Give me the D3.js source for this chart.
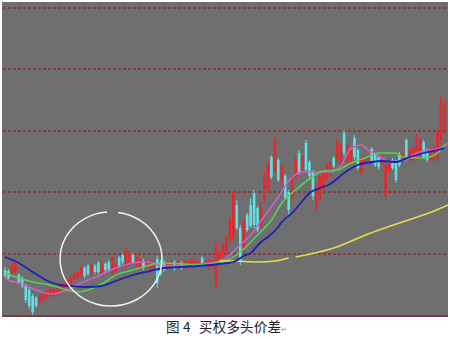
<!DOCTYPE html>
<html lang="zh">
<head>
<meta charset="UTF-8">
<title>图4 买权多头价差</title>
<script src="https://d3js.org/d3.v7.min.js"></script>
<style>
  body { margin: 0; background: #fff; }
</style>
</head>
<body>
<script>
    // candle values (price units), one entry per bar
    const openVals = [46,45,42,44,41,38,30,26,20,18,
        14,16,18,20,21,22,24,26,29,32,
        36,38,40,48,50,42,50,53,42,52,
        54,42,44,58,61,50,52,61,51,48,
        55,49,48,48,57,54,54,50,50,54,
        51,53,50,49,50,50,51,58,51,48,
        50,31,52,61,64,76,78,111,88,66,
        101,111,123,108,90,116,126,159,146,156,
        133,140,124,118,139,163,146,173,154,144,
        108,116,126,136,141,158,156,152,183,154,
        153,178,166,143,152,156,167,161,159,152,
        120,144,156,153,161,154,176,156,156,158,
        161,174,166,156,156,159,176,186];
    const closeVals = [40,38,50,52,34,30,16,10,4,10,
        19,23,24,26,27,28,30,33,36,38,
        42,44,48,40,42,51,44,44,53,46,
        46,58,52,50,54,66,63,54,60,56,
        48,54,54,53,33,42,46,54,55,47,
        54,48,54,54,56,54,54,51,55,56,
        55,70,64,71,78,96,124,88,54,94,
        86,90,91,86,109,138,153,139,176,136,
        151,118,106,136,156,143,159,146,140,120,
        128,140,146,151,153,150,174,170,163,170,
        166,159,148,158,159,161,155,151,149,158,
        151,155,148,136,151,162,159,166,169,179,
        176,159,156,166,168,184,216,212];
    const highVals = [49,47,54,54,43,40,32,28,22,20,
        21,25,26,28,29,30,32,35,38,40,
        44,46,50,50,52,53,52,55,56,54,
        56,61,54,60,63,68,65,63,62,58,
        57,56,56,55,60,56,56,56,57,56,
        56,55,56,56,58,56,56,60,57,58,
        57,79,66,74,80,101,128,116,91,98,
        103,118,126,110,113,144,156,161,180,158,
        153,142,126,138,160,166,161,176,156,146,
        133,142,148,153,155,160,178,172,186,172,
        168,181,168,160,161,163,169,163,161,160,
        154,157,158,156,164,164,178,168,171,182,
        178,176,168,168,170,188,220,216];
    const lowVals = [38,36,40,42,32,28,13,7,0,8,
        11,14,16,18,19,20,22,24,27,30,
        34,36,38,38,40,40,42,42,40,44,
        44,40,42,48,52,47,50,52,49,46,
        46,47,46,46,28,40,44,48,48,45,
        49,46,48,47,48,48,49,49,49,46,
        48,28,50,58,62,71,74,86,51,63,
        84,88,88,84,88,113,123,137,144,134,
        131,116,102,116,136,141,144,144,138,116,
        104,114,124,134,139,148,153,150,160,152,
        151,156,146,140,150,154,153,149,147,150,
        116,142,146,133,149,152,156,154,154,156,
        159,157,154,154,154,154,171,182];

    // moving averages: [bar index, value]
    const ma5 = [[0,39],[1,36],[4,33],[9,26],[13,22],[18,26],[22,33],[27,40],[32,48],[37,53],
        [40,54],[43,53],[45,50],[51,51],[56,52],[61,54],[64,58],[67,68],[71,81],[75,100],
        [79,119],[82,135],[86,144],[90,144],[94,144],[97,150],[100,168],[103,171],[105,166],
        [108,160],[111,154],[115,155],[119,163],[123,166],[126,168],[128,173]];
    const ma10 = [[0,43],[4,38],[8,34],[13,31],[18,26],[21,24],[24,26],[28,32],[32,41],[37,46],
        [42,51],[45,53],[52,52],[56,51],[61,53],[65,57],[69,67],[73,81],[77,96],[80,113],
        [84,126],[88,137],[92,145],[96,146],[100,153],[104,158],[108,163],[113,163],[115,159],
        [121,158],[125,163],[127,171]];
    const ma20 = [[0,59],[4,53],[8,44],[13,34],[16,31],[19,30],[24,29],[28,30],[32,35],[37,41],
        [42,45],[46,48],[51,49],[56,50],[62,52],[66,54],[69,60],[71,63],[74,74],[76,79],
        [79,89],[80,94],[83,103],[85,111],[88,123],[91,128],[94,132],[98,143],[102,151],
        [106,154],[109,155],[113,154],[117,159],[121,163],[125,166],[127,168]];
    const ma60 = [[62,55],[66,55],[73,54],[78,55],[82,58],null,[84,59],[95,68],[105,82],
        [114,93],[124,105],[128,111]];

    const gridLevels = [62, 124, 185, 247, 308];
    const captionParts = ["图", "4", "买权多头价差"];

    let width = 450;
    let height = 339;

    let svg = d3.select("body")
        .append("svg")
        .attr("width", width)
        .attr("height", height);

    let x = d3.scaleLinear().domain([0, openVals.length - 1]).range([5, 444.4]);
    let y = d3.scaleLinear().domain([0, 308]).range([316, 8]);

    // panel
    svg.append("rect")
        .attr("x", 2).attr("y", 2)
        .attr("width", 446).attr("height", 314)
        .attr("fill", "#6f6f6f");

    // dashed levels
    svg.selectAll("line.grid")
        .data(gridLevels)
        .enter()
        .append("line")
        .attr("class", "grid")
        .attr("x1", 3).attr("x2", 447)
        .attr("y1", d => y(d)).attr("y2", d => y(d))
        .style("stroke", "#8c2f35")
        .style("stroke-width", 1.3)
        .style("stroke-dasharray", "3,2");

    // candles
    let bars = d3.range(openVals.length);
    let up = i => closeVals[i] >= openVals[i];

    svg.selectAll("line.wick")
        .data(bars)
        .enter()
        .append("line")
        .attr("class", "wick")
        .attr("x1", i => x(i)).attr("x2", i => x(i))
        .attr("y1", i => y(highVals[i])).attr("y2", i => y(lowVals[i]))
        .style("stroke", i => up(i) ? "#e8262c" : "#62e0e6")
        .style("stroke-width", 1);

    svg.selectAll("rect.body")
        .data(bars)
        .enter()
        .append("rect")
        .attr("class", "body")
        .attr("x", i => x(i) - 1.3)
        .attr("width", 2.6)
        .attr("y", i => y(Math.max(openVals[i], closeVals[i])))
        .attr("height", i => Math.max(1, Math.abs(y(openVals[i]) - y(closeVals[i]))))
        .attr("fill", i => up(i) ? "#e8262c" : "#62e0e6");

    // moving average lines
    let line = d3.line()
        .defined(d => d)
        .x(d => x(d[0]))
        .y(d => y(d[1]))
        .curve(d3.curveMonotoneX);

    let maLines = [
        { data: ma5, color: "#cc62cc", w: 1.6 },
        { data: ma10, color: "#54d254", w: 1.6 },
        { data: ma60, color: "#e4df4a", w: 1.6 },
        { data: ma20, color: "#1c22b4", w: 1.8 }
    ];

    maLines.forEach(m => {
        svg.append("path")
            .datum(m.data)
            .attr("d", line)
            .style("fill", "none")
            .style("stroke", m.color)
            .style("stroke-width", m.w);
    });

    // hand drawn circle marking the spread
    svg.append("path")
        .attr("d", "M118,212.4 A51,47 0 1 1 107,212.1")
        .style("fill", "none")
        .style("stroke", "#f2f2f2")
        .style("stroke-width", 1.5);

    // bottom rule
    svg.append("line")
        .attr("x1", 2).attr("x2", 448)
        .attr("y1", 316).attr("y2", 316)
        .style("stroke", "#7a3848")
        .style("stroke-width", 2);

    // caption
    let cap = svg.append("text")
        .attr("y", 332)
        .style("font-family", "'Noto Sans CJK SC', sans-serif")
        .style("font-size", "13.5px")
        .style("fill", "#222");
    cap.append("tspan").attr("x", 166).text(captionParts[0]);
    cap.append("tspan").attr("x", 183).text(captionParts[1]);
    cap.append("tspan").attr("x", 199).style("letter-spacing", "0.2px").text(captionParts[2]);
    cap.append("tspan")
        .style("font-size", "7px")
        .style("fill", "#888")
        .text("↵");
</script>
</body>
</html>
